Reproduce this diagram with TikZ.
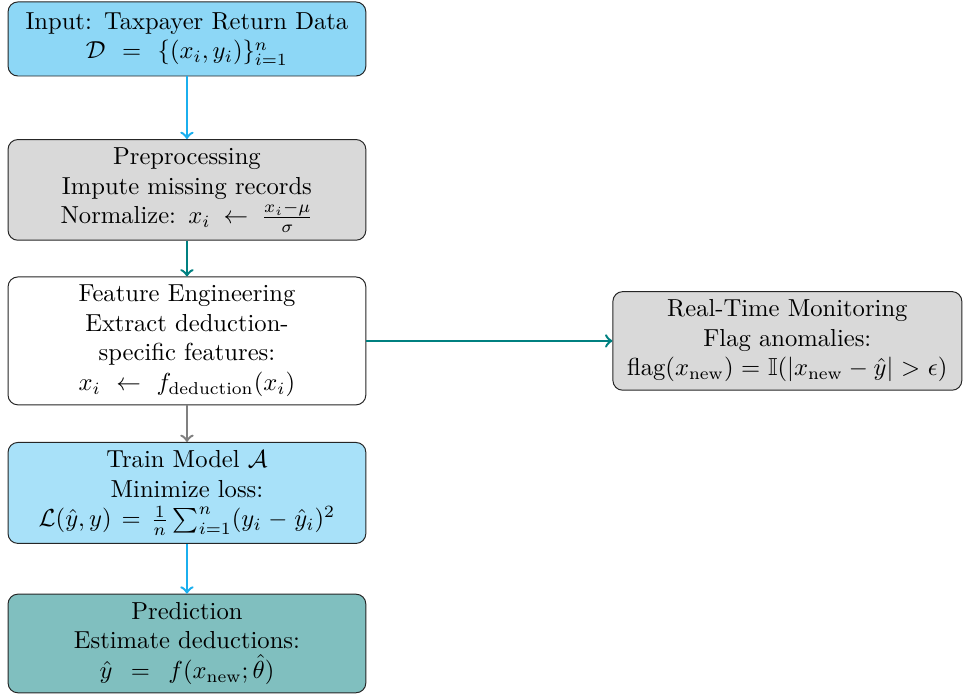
\documentclass[tikz,border=0pt]{standalone}
\usepackage{amsmath,amssymb}
\definecolor{flowblue}{RGB}{27,175,238}
\definecolor{flowteal}{RGB}{0,128,128}
\definecolor{flowgray}{RGB}{128,128,128}
\tikzset{
  box/.style={draw=black!85, rounded corners=4pt, align=center, inner sep=3.33pt,
              text width=138.8pt},
  sidebox/.style={box, text width=135.2pt},
  flow/.style={->, line width=1pt}
}
\begin{document}
\begin{tikzpicture}[x=1pt,y=1pt]
\useasboundingbox (0,0) rectangle (391.5,-283.3);

% main pipeline, top to bottom
\node[box, fill=flowblue!50, minimum height=30.1pt] (input) at (76,-15.85)
  {Input: Taxpayer Return Data\\ $\mathcal{D} = \{(x_i, y_i)\}_{i=1}^{n}$};
\node[box, fill=black!15, minimum height=40.7pt] (prep) at (76,-77.2)
  {Preprocessing\\ Impute missing records\\ Normalize: $x_i \leftarrow \frac{x_i-\mu}{\sigma}$};
\node[box, fill=white, minimum height=52pt] (feat) at (76,-138.6)
  {Feature Engineering\\ Extract deduction-\\ specific features:\\ $x_i \leftarrow f_{\text{deduction}}(x_i)$};
\node[box, fill=flowblue!38, minimum height=40.7pt] (train) at (76,-200.4)
  {Train Model $\mathcal{A}$\\ Minimize loss:\\ $\mathcal{L}(\hat{y}, y) = \frac{1}{n}\sum_{i=1}^{n}(y_i - \hat{y}_i)^2$};
\node[box, fill=flowteal!50, minimum height=39.4pt] (pred) at (76,-261.6)
  {Prediction\\ Estimate deductions:\\ $\hat{y} = f(x_{\text{new}}; \hat{\theta})$};

% side branch
\node[sidebox, fill=black!15, minimum height=39.8pt] (monitor) at (320.1,-138.6)
  {Real-Time Monitoring\\ Flag anomalies:\\ $\text{flag}(x_{\text{new}}) = \mathbb{I}(|x_{\text{new}} - \hat{y}| > \epsilon)$};

% connectors
\draw[flow, flowblue] (input) -- (prep);
\draw[flow, flowteal] (prep) -- (feat);
\draw[flow, flowgray] (feat) -- (train);
\draw[flow, flowblue] (train) -- (pred);
\draw[flow, flowteal] (feat) -- (monitor);
\end{tikzpicture}
\end{document}
